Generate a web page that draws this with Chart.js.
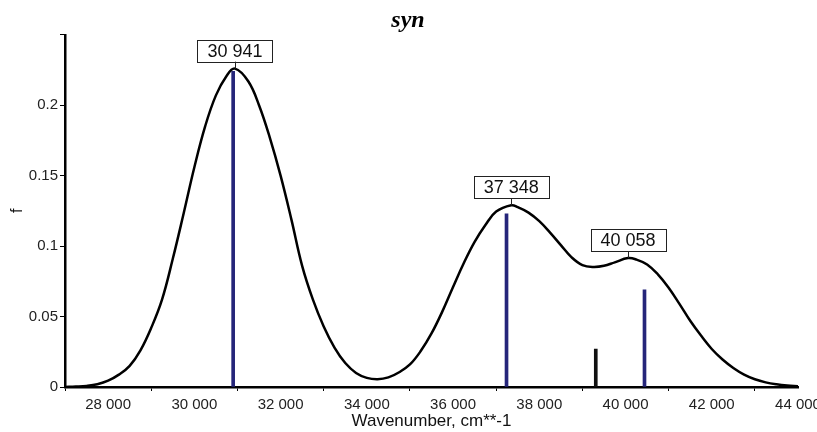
<!DOCTYPE html>
<html>
<head>
<meta charset="utf-8">
<script src="https://cdn.jsdelivr.net/npm/chart.js@4.4.1/dist/chart.umd.min.js"></script>
<style>
  html, body { margin: 0; padding: 0; background: #fff; overflow: hidden; }
  #wrap { width: 817px; height: 432px; position: relative; }
</style>
</head>
<body>
<div id="wrap"><canvas id="chart1"></canvas></div>
<script>
// absorption envelope (wavenumber, oscillator strength)
var curveWn = [27000, 27250, 27500, 27750, 28000, 28250, 28500, 28750, 29000, 29250,
               29500, 29750, 30000, 30250, 30500, 30750, 30941, 31250, 31500, 31750,
               32000, 32250, 32500, 32750, 33000, 33250, 33500, 33750, 34000, 34250,
               34500, 34750, 35000, 35250, 35500, 35750, 36000, 36250, 36500, 36750,
               37000, 37348, 37500, 37750, 38000, 38250, 38500, 38750, 39000, 39250,
               39500, 39750, 40058, 40250, 40500, 40750, 41000, 41250, 41500, 41750,
               42000, 42250, 42500, 42750, 43000, 43250, 43500, 43750, 44000];
var curveF = [0.0000, 0.0003, 0.0008, 0.0020, 0.0045, 0.0088, 0.0150, 0.0260, 0.0420, 0.0620,
              0.0910, 0.1230, 0.1560, 0.1850, 0.2070, 0.2210, 0.2260, 0.2170, 0.2000, 0.1770,
              0.1500, 0.1190, 0.0860, 0.0620, 0.0430, 0.0280, 0.0170, 0.0100, 0.0065, 0.0055,
              0.0068, 0.0105, 0.0160, 0.0255, 0.0380, 0.0535, 0.0710, 0.0880, 0.1030, 0.1150,
              0.1245, 0.1290, 0.1277, 0.1238, 0.1177, 0.1096, 0.1007, 0.0920, 0.0865, 0.0852,
              0.0860, 0.0885, 0.0915, 0.0905, 0.0870, 0.0800, 0.0705, 0.0590, 0.0470, 0.0365,
              0.0270, 0.0195, 0.0135, 0.0088, 0.0055, 0.0033, 0.0019, 0.0010, 0.0005];

// individual transitions
var stickWn = [30900, 37240, 39310, 40440];
var stickF = [0.224, 0.123, 0.027, 0.069];
var stickColors = ['#25257a', '#25257a', '#111111', '#25257a'];

// labelled band maxima
var peakWn = [30941, 37348, 40058];
var peakF = [0.226, 0.129, 0.0915];

// axis ticks
var xTicks = [28000, 30000, 32000, 34000, 36000, 38000, 40000, 42000, 44000];
var yTicks = [0, 0.05, 0.1, 0.15, 0.2, 0.25];

function spaced(v) {
    return String(Math.round(v)).replace(/\B(?=(\d{3})+(?!\d))/g, ' ');
}

// boxed labels over the maxima
var peakLabels = {
    id: 'peakLabels',
    afterDatasetsDraw: function(chart) {
        var ctx = chart.ctx;
        var xs = chart.scales.x, ys = chart.scales.y;
        ctx.save();
        ctx.font = '18px "Liberation Sans", Arial, sans-serif';
        ctx.textAlign = 'center';
        ctx.textBaseline = 'middle';
        for (var i = 0; i < peakWn.length; i++) {
            var px = xs.getPixelForValue(peakWn[i]);
            var py = ys.getPixelForValue(peakF[i]);
            var txt = spaced(peakWn[i]);
            var w = ctx.measureText(txt).width + 20;
            var h = 22;
            var bottom = py - 7;
            ctx.fillStyle = '#fff';
            ctx.fillRect(px - w / 2, bottom - h, w, h);
            ctx.strokeStyle = '#222';
            ctx.lineWidth = 1;
            ctx.strokeRect(Math.round(px - w / 2) + 0.5, Math.round(bottom - h) + 0.5, Math.round(w), h);
            ctx.beginPath();
            ctx.moveTo(Math.round(px) + 0.5, bottom);
            ctx.lineTo(Math.round(px) + 0.5, py);
            ctx.stroke();
            ctx.fillStyle = '#111';
            ctx.fillText(txt, px, bottom - h / 2 + 1);
        }
        ctx.restore();
    }
};

var ctx = document.getElementById('chart1').getContext('2d');
var myChart = new Chart(ctx, {
    type: 'line',
    data: {
        datasets: [{
            type: 'line',
            label: 'envelope',
            data: curveWn.map(function(w, i) { return {x: w, y: curveF[i]}; }),
            borderColor: '#000',
            borderWidth: 2.5,
            pointRadius: 0,
            fill: false,
            tension: 0.4,
            order: 1
        },
        {
            type: 'bar',
            label: 'transitions',
            data: stickWn.map(function(w, i) { return {x: w, y: stickF[i]}; }),
            backgroundColor: stickColors,
            borderWidth: 0,
            barThickness: 3,
            order: 2
        }]
    },
    options: {
        responsive: true,
        maintainAspectRatio: false,
        animation: false,
        layout: {
            padding: { left: 18, right: 19, top: 0, bottom: 0 }
        },
        plugins: {
            legend: { display: false },
            tooltip: { enabled: false },
            title: {
                display: true,
                text: 'syn',
                color: '#000',
                font: { family: '"Liberation Serif", "Times New Roman", serif', size: 24, style: 'italic', weight: 'bold' },
                padding: { top: 6, bottom: 0 }
            }
        },
        scales: {
            x: {
                type: 'linear',
                min: 27000,
                max: 44000,
                offset: false,
                border: { color: '#000', width: 2.5 },
                grid: { drawOnChartArea: false, drawTicks: true, tickLength: 4, tickColor: '#000' },
                afterBuildTicks: function(scale) {
                    scale.ticks = xTicks.map(function(v) { return {value: v}; });
                },
                ticks: {
                    maxRotation: 0,
                    autoSkip: false,
                    padding: 5,
                    color: '#222',
                    font: { family: '"Liberation Sans", Arial, sans-serif', size: 15 },
                    callback: function(v) { return spaced(v); }
                },
                title: {
                    display: true,
                    text: 'Wavenumber, cm**-1',
                    color: '#111',
                    font: { family: '"Liberation Sans", Arial, sans-serif', size: 17 },
                    padding: { top: 0, bottom: 0 }
                },
                afterFit: function(scale) {
                    scale.paddingRight = 0;
                    scale.paddingLeft = 0;
                    scale.height = 45;
                }
            },
            y: {
                min: 0,
                max: 0.25,
                border: { color: '#000', width: 2.5 },
                grid: { drawOnChartArea: false, drawTicks: true, tickLength: 5, tickColor: '#000' },
                afterBuildTicks: function(scale) {
                    scale.ticks = yTicks.map(function(v) { return {value: v}; });
                },
                ticks: {
                    padding: 2,
                    color: '#222',
                    font: { family: '"Liberation Sans", Arial, sans-serif', size: 15 },
                    callback: function(v) {
                        if (v >= 0.25) return '';
                        return String(parseFloat(v.toFixed(2)));
                    }
                },
                title: {
                    display: true,
                    text: 'f',
                    color: '#111',
                    font: { family: '"Liberation Sans", Arial, sans-serif', size: 16 },
                    padding: { top: -10, bottom: 0 }
                },
                afterFit: function(scale) {
                    scale.width = 47;
                    scale.paddingTop = 0;
                }
            }
        }
    },
    plugins: [peakLabels]
});
</script>
</body>
</html>
